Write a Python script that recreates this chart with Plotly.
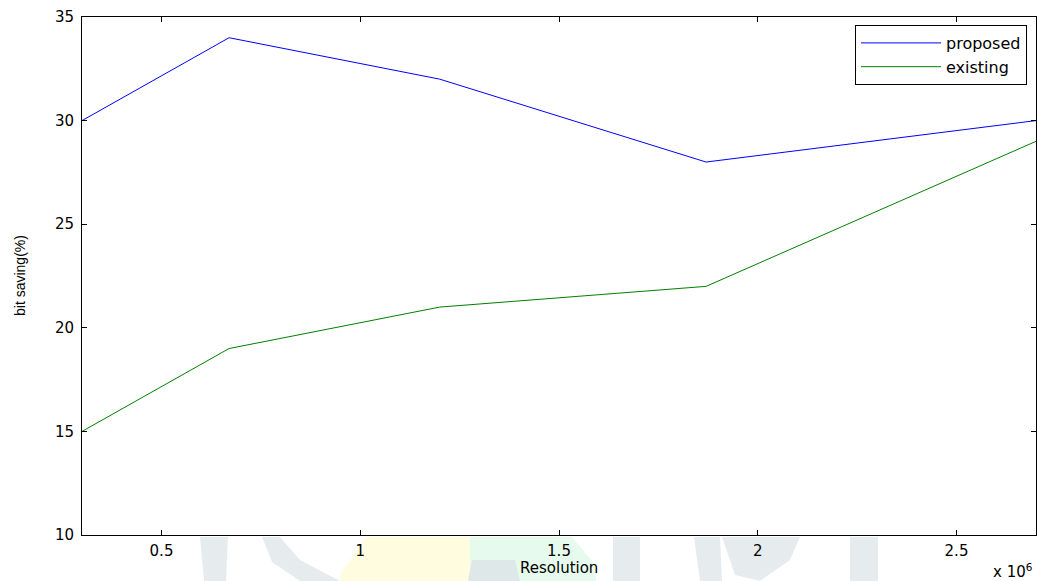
import plotly.graph_objects as go

# ---- data ----
resolution = [0.3e6, 0.67e6, 1.2e6, 1.87e6, 2.7e6]
proposed = [30, 34, 32, 28, 30]
existing = [15, 19, 21, 22, 29]
x_tickvals = [0.5e6, 1.0e6, 1.5e6, 2.0e6, 2.5e6]
x_ticktext = ["0.5", "1", "1.5", "2", "2.5"]
y_tickvals = [10, 15, 20, 25, 30, 35]

FONT = "DejaVu Sans, Verdana, sans-serif"
FONT2 = "Liberation Sans, Arial, Helvetica, sans-serif"

# plot area in pixels (for watermark placement)
PX0, PX1, PY0, PY1 = 82, 1036, 17, 535


def px(x):
    return (x - PX0) / (PX1 - PX0)


def py(y):
    return (PY1 - y) / (PY1 - PY0)


def path(points):
    return "M " + " L ".join(f"{px(a):.4f},{py(b):.4f}" for a, b in points) + " Z"


fig = go.Figure()
fig.add_trace(go.Scatter(x=resolution, y=proposed, mode="lines", name="proposed",
                         line=dict(color="#0000ff", width=1)))
fig.add_trace(go.Scatter(x=resolution, y=existing, mode="lines", name="existing",
                         line=dict(color="#008000", width=1)))

# faint watermark pieces below the axes
shapes = []
GRAY = "#e6ecee"
wm = [
    ("#fffcdf", [(366, 537), (470, 537), (470, 581), (340, 581), (340, 575)]),
    ("#e6fbee", [(470, 537), (572, 537), (596, 566), (596, 581), (470, 581)]),
    ("#dfe8e8", [(472, 560), (515, 560), (520, 581), (468, 581)]),
    (GRAY, [(200, 537), (228, 537), (226, 581), (204, 581)]),
    (GRAY, [(262, 537), (280, 537), (300, 560), (340, 581), (300, 581), (272, 562)]),
    (GRAY, [(613, 537), (640, 537), (640, 581), (613, 581)]),
    (GRAY, [(694, 537), (720, 537), (722, 581), (700, 581)]),
    (GRAY, [(722, 537), (800, 537), (790, 560), (760, 581), (735, 575)]),
    (GRAY, [(850, 537), (878, 537), (878, 581), (850, 581)]),
]
for col, pts in wm:
    shapes.append(dict(type="path", xref="paper", yref="paper", path=path(pts),
                       fillcolor=col, line=dict(width=0), layer="below"))

axis_common = dict(showline=True, linecolor="black", linewidth=1, mirror="allticks",
                   ticks="inside", ticklen=5, tickcolor="black", showgrid=False,
                   zeroline=False, tickfont=dict(family=FONT, size=15, color="black"))

fig.update_layout(
    width=1037, height=581,
    margin=dict(l=PX0, r=1037 - PX1, t=PY0, b=581 - PY1),
    paper_bgcolor="white", plot_bgcolor="white",
    font=dict(family=FONT, size=15, color="black"),
    xaxis=dict(range=[0.3e6, 2.7e6], tickvals=x_tickvals, ticktext=x_ticktext,
               ticklabelstandoff=2, **axis_common),
    yaxis=dict(range=[10, 35], tickvals=y_tickvals, ticklabelstandoff=4, **axis_common),
    legend=dict(x=px(1027), y=py(25), xanchor="right", yanchor="top",
                bgcolor="white", bordercolor="black", borderwidth=1,
                font=dict(family=FONT, size=16, color="black"),
                tracegroupgap=0, itemwidth=80),
    shapes=shapes,
    annotations=[
        dict(text="Resolution", xref="paper", yref="paper", x=0.5, y=py(568),
             xanchor="center", yanchor="middle", showarrow=False,
             font=dict(family=FONT, size=15)),
        dict(text="bit saving(%)", xref="paper", yref="paper", x=px(20), y=0.5,
             xanchor="center", yanchor="middle", textangle=-90, showarrow=False,
             font=dict(family=FONT2, size=14)),
        dict(text="x 10<sup>6</sup>", xref="paper", yref="paper", x=px(1035), y=py(571),
             xanchor="right", yanchor="middle", showarrow=False,
             font=dict(family=FONT, size=15)),
    ],
    showlegend=True,
)

fig.write_html("out.html", config={"displayModeBar": False},
               post_script="document.body.style.margin='0';document.body.style.overflow='hidden';")
